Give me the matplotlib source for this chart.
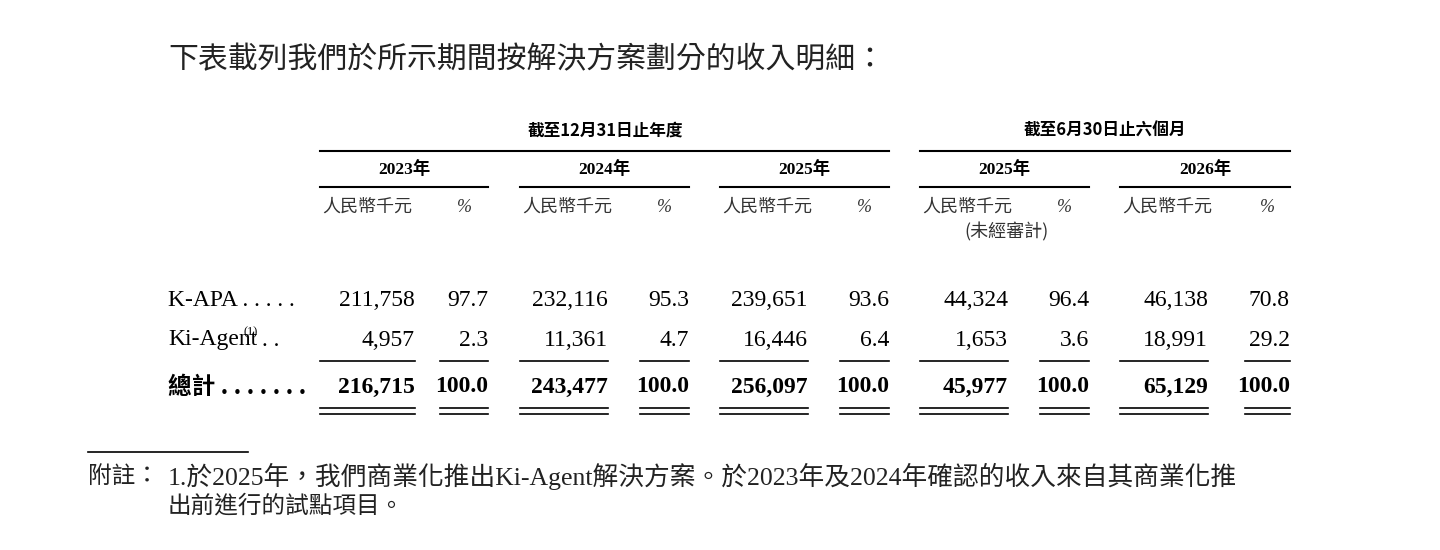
import matplotlib
matplotlib.use("Agg")
import matplotlib.pyplot as plt

plt.rcParams['font.family'] = ['Liberation Serif', 'Noto Sans CJK TC']

title = "下表載列我們於所示期間按解決方案劃分的收入明細："
periods = ["截至12月31日止年度", "截至6月30日止六個月"]
years = ["2023年", "2024年", "2025年", "2025年", "2026年"]
rows = ["K-APA", "Ki-Agent", "總計"]
amounts = [
    [211758, 232116, 239651, 44324, 46138],
    [4957, 11361, 16446, 1653, 18991],
    [216715, 243477, 256097, 45977, 65129],
]
pcts = [
    [97.7, 95.3, 93.6, 96.4, 70.8],
    [2.3, 4.7, 6.4, 3.6, 29.2],
    [100.0, 100.0, 100.0, 100.0, 100.0],
]
note1 = "1.於2025年，我們商業化推出Ki-Agent解決方案。於2023年及2024年確認的收入來自其商業化推"
note2 = "出前進行的試點項目。"

fig = plt.figure(figsize=(14.4, 5.5), dpi=100)
ax = fig.add_axes([0, 0, 1, 1])
ax.set_xlim(0, 1440)
ax.set_ylim(550, 0)
ax.axis('off')

cjk = ['Noto Sans CJK TC']
ax.text(168, 60, title, fontsize=21.5, family=cjk, va='center', color='#222')

# column geometry per group: amount left/right, pct left/right
groups = [(320, 415, 440, 488), (520, 608, 640, 689), (720, 808, 840, 889),
          (920, 1008, 1040, 1089), (1120, 1208, 1245, 1290)]

ax.text(605, 131, periods[0], fontsize=12, family=cjk, weight='bold', ha='center', va='center')
ax.text(1105, 131, periods[1], fontsize=12, family=cjk, weight='bold', ha='center', va='center')
ax.plot([320, 889], [151, 151], color='k', lw=1.5)
ax.plot([920, 1290], [151, 151], color='k', lw=1.5)

for i, (al, ar, pl, pr) in enumerate(groups):
    ax.text((al + pr) / 2, 170, years[i], fontsize=12.5, weight='bold', ha='center', va='center')
    ax.plot([al, pr], [187, 187], color='k', lw=1.5)
    ax.text(al + 2, 207, "人民幣千元", fontsize=13, family=cjk, style='italic', ha='left', va='center', color='#333')
    ax.text((pl + pr) / 2, 207, "%", fontsize=13, style='italic', ha='center', va='center', color='#333')
    if i == 3:
        ax.text(al + 44, 232, "(未經審計)", fontsize=13, family=cjk, style='italic', ha='left', va='center', color='#333')

row_y = [300, 340, 387]
ax.text(168, row_y[0], "K-APA . . . . .", fontsize=17, va='center')
ax.text(168, row_y[1], "Ki-Agent", fontsize=17, va='center')
ax.text(243, row_y[1] - 8, "(1)", fontsize=9, va='center')
ax.text(262, row_y[1], ". .", fontsize=17, va='center')
ax.text(168, row_y[2], "總計 . . . . . . .", fontsize=17, family=['Noto Sans CJK TC'], weight='bold', va='center')

for r in range(3):
    bold = 'bold' if r == 2 else 'normal'
    for i, (al, ar, pl, pr) in enumerate(groups):
        ax.text(ar, row_y[r], f"{amounts[r][i]:,}", fontsize=17, weight=bold, ha='right', va='center')
        ax.text(pr, row_y[r], f"{pcts[r][i]:.1f}", fontsize=17, weight=bold, ha='right', va='center')

for al, ar, pl, pr in groups:
    for xa, xb in [(al, ar), (pl, pr)]:
        ax.plot([xa, xb], [361, 361], color='k', lw=1.2)
        ax.plot([xa, xb], [408, 408], color='k', lw=1.2)
        ax.plot([xa, xb], [414, 414], color='k', lw=1.2)

ax.plot([88, 248], [452, 452], color='k', lw=1.2)
ax.text(88, 476, "附註：", fontsize=17, family=cjk, style='italic', va='center', color='#222')
ax.text(168, 476, note1, fontsize=18.5, family=['Liberation Serif', 'Noto Sans CJK TC'], va='center', color='#222')
ax.text(168, 506, note2, fontsize=17, family=cjk, va='center', color='#222')

fig.savefig("out.png", dpi=100)
